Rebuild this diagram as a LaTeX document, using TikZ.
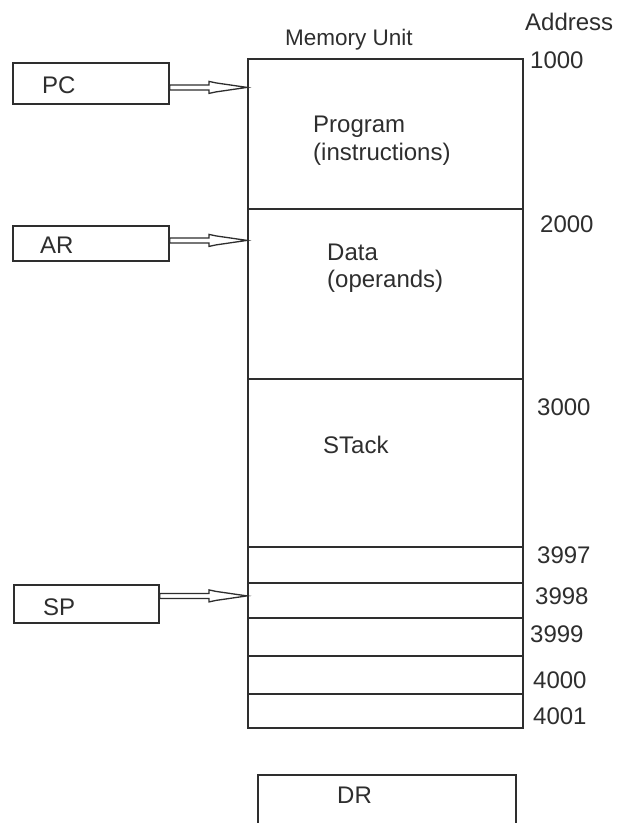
\documentclass[tikz,border=0pt]{standalone}
\usepackage{fontspec}
\setmainfont{Liberation Sans}
\usetikzlibrary{calc}
\definecolor{ink}{HTML}{2E2E2E}
\tikzset{
  box/.style={draw=ink, line width=1.8pt, rectangle, inner sep=0pt, anchor=north west},
  lbl/.style={text=ink, font=\fontsize{24}{28}\selectfont, inner sep=0pt, anchor=base west},
  arrowline/.style={draw=ink, line width=1.3pt, fill=white, line join=miter}
}
% hollow double-line arrow from #1 to #2 (horizontal)
\newcommand\hollowarrow[2]{%
  \draw[arrowline] let \p1=(#1), \p2=(#2) in
    (\x1,\y1+2.5pt) -- (\x2-38pt,\y1+2.5pt) -- (\x2-38pt,\y1+6pt) --
    (\x2-31pt,\y1+4.5pt) -- (\x2,\y1) -- (\x2-31pt,\y1-4.5pt) --
    (\x2-38pt,\y1-6pt) -- (\x2-38pt,\y1-2.5pt) -- (\x1,\y1-2.5pt) -- cycle;}
\begin{document}
\begin{tikzpicture}[x=1pt,y=-1pt]
\useasboundingbox[fill=white] (0,0) rectangle (619,823);

% memory unit, segment by segment
\node[box, minimum width=275pt, minimum height=150pt] (prog)  at (247,58)  {};
\node[box, minimum width=275pt, minimum height=170pt] (data)  at (247,208) {};
\node[box, minimum width=275pt, minimum height=168pt] (stack) at (247,378) {};
\node[box, minimum width=275pt, minimum height=36pt]  (c3997) at (247,546) {};
\node[box, minimum width=275pt, minimum height=35pt]  (c3998) at (247,582) {};
\node[box, minimum width=275pt, minimum height=38pt]  (c3999) at (247,617) {};
\node[box, minimum width=275pt, minimum height=38pt]  (c4000) at (247,655) {};
\node[box, minimum width=275pt, minimum height=34pt]  (c4001) at (247,693) {};

% registers
\node[box, minimum width=156pt, minimum height=41pt] (pc) at (12,62)  {};
\node[box, minimum width=156pt, minimum height=35pt] (ar) at (12,225) {};
\node[box, minimum width=145pt, minimum height=38pt] (sp) at (13,584) {};
\node[box, minimum width=258pt, minimum height=60pt] (dr) at (257,774) {};

\node[lbl] (pct) at (42,93)  {PC};
\node[lbl] (art) at (40,253) {AR};
\node[lbl] (spt) at (43,615) {SP};
\node[lbl] (drt) at (337,803) {DR};

% pointers into memory
\coordinate (pcfrom) at ([yshift=-4pt]pc.east);
\coordinate (arfrom) at ([yshift=3pt]ar.east);
\coordinate (spfrom) at ([yshift=8pt]sp.east);
\hollowarrow{pcfrom}{pcfrom -| prog.west}
\hollowarrow{arfrom}{arfrom -| data.west}
\hollowarrow{spfrom}{spfrom -| c3998.west}

% headings and segment contents
\node[lbl, font=\fontsize{22.5}{27}\selectfont] (title) at (285,45) {Memory Unit};
\node[lbl] (addr) at (525,30) {Address};
\node[lbl] (p1) at (313,132) {Program};
\node[lbl] (p2) at (313,160) {(instructions)};
\node[lbl] (d1) at (327,260) {Data};
\node[lbl] (d2) at (327,287) {(operands)};
\node[lbl] (st) at (323,453) {STack};

% addresses
\node[lbl] (a1000) at (530,68)  {1000};
\node[lbl] (a2000) at (540,232) {2000};
\node[lbl] (a3000) at (537,415) {3000};
\node[lbl] (a3997) at (537,563) {3997};
\node[lbl] (a3998) at (535,604) {3998};
\node[lbl] (a3999) at (530,642) {3999};
\node[lbl] (a4000) at (533,688) {4000};
\node[lbl] (a4001) at (533,724) {4001};
\end{tikzpicture}
\end{document}
